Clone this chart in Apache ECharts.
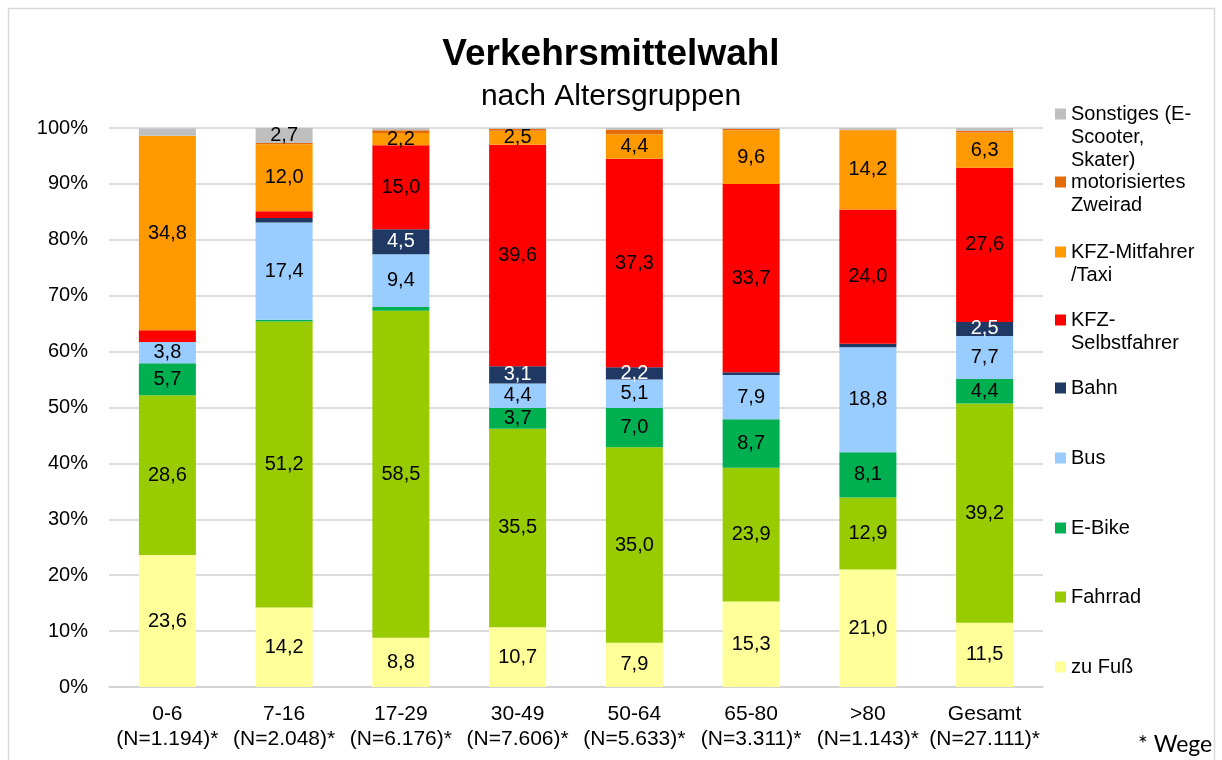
<!DOCTYPE html>
<html><head><meta charset="utf-8">
<script src="https://cdn.jsdelivr.net/npm/echarts@6/dist/echarts.min.js"></script>
<style>html,body{margin:0;padding:0;background:#fff}#c{width:1222px;height:760px}</style>
</head><body><div id="c"></div>
<script>
const categories = ['0-6\n(N=1.194)*','7-16\n(N=2.048)*','17-29\n(N=6.176)*','30-49\n(N=7.606)*','50-64\n(N=5.633)*','65-80\n(N=3.311)*','>80\n(N=1.143)*','Gesamt\n(N=27.111)*'];
const zuFuss    = [23.6, 14.2,  8.8, 10.7,  7.9, 15.3, 21.0, 11.5];
const fahrrad   = [28.6, 51.2, 58.5, 35.5, 35.0, 23.9, 12.9, 39.2];
const eBike     = [ 5.7,  0.3,  0.7,  3.7,  7.0,  8.7,  8.1,  4.4];
const bus       = [ 3.8, 17.4,  9.4,  4.4,  5.1,  7.9, 18.8,  7.7];
const bahn      = [ 0.0,  0.8,  4.5,  3.1,  2.2,  0.5,  0.6,  2.5];
const kfzSelbst = [ 2.1,  1.2, 15.0, 39.6, 37.3, 33.7, 24.0, 27.6];
const kfzMit    = [34.8, 12.0,  2.2,  2.5,  4.4,  9.6, 14.2,  6.3];
const motorrad  = [ 0.0,  0.2,  0.5,  0.3,  0.8,  0.2,  0.1,  0.3];
const sonstiges = [ 1.3,  2.7,  0.4,  0.2,  0.3,  0.2,  0.3,  0.5];
const seriesNames = ['zu Fuß','Fahrrad','E-Bike','Bus','Bahn','KFZ-Selbstfahrer','KFZ-Mitfahrer/Taxi','motorisiertes Zweirad','Sonstiges (E-Scooter, Skater)'];
const legendTexts = [['zu Fuß'],['Fahrrad'],['E-Bike'],['Bus'],['Bahn'],['KFZ-','Selbstfahrer'],['KFZ-Mitfahrer','/Taxi'],['motorisiertes','Zweirad'],['Sonstiges (E-','Scooter,','Skater)']];
const seriesValues = [zuFuss, fahrrad, eBike, bus, bahn, kfzSelbst, kfzMit, motorrad, sonstiges];
const colors = ['#FFFF99','#99CC00','#00B050','#99CCFF','#1F3864','#FF0000','#FF9900','#E36C09','#BFBFBF'];
const labelColors = ['#000','#000','#000','#000','#fff','#000','#000','#000','#000'];
const legendY = [667, 597, 528, 458, 388, 320, 252, 182, 114];

const FF = 'Liberation Sans, Arial, sans-serif';
const LH = 23;
const chart = echarts.init(document.getElementById('c'));
const fmt = v => v.toFixed(1).replace('.', ',');

chart.setOption({
  animation: false,
  backgroundColor: '#fff',
  title: [
    {text: 'Verkehrsmittelwahl', left: 'center', top: 36, padding: 0,
     textStyle: {fontSize: 37, fontWeight: 'bold', color: '#000', fontFamily: FF}},
    {text: 'nach Altersgruppen', left: 'center', top: 82, padding: 0,
     textStyle: {fontSize: 30, fontWeight: 'normal', color: '#000', fontFamily: FF}}
  ],
  grid: {left: 109, right: 179, top: 128, bottom: 73, containLabel: false},
  xAxis: {
    type: 'category', data: categories,
    axisLine: {lineStyle: {color: '#D0D0D0', width: 1.5}},
    axisTick: {show: false},
    axisLabel: {fontSize: 21, lineHeight: 25, color: '#000', fontFamily: FF, margin: 15, interval: 0}
  },
  yAxis: {
    type: 'value', min: 0, max: 100, interval: 10,
    axisLine: {show: false}, axisTick: {show: false},
    splitLine: {lineStyle: {color: '#D0D0D0', width: 1.5}},
    axisLabel: {formatter: '{value}%', fontSize: 20, color: '#000', fontFamily: FF, margin: 21}
  },
  legend: seriesNames.map((n, i) => {
    const lines = legendTexts[i];
    const h = LH * lines.length;
    return {
      data: [n], left: 1055, top: legendY[i] - LH / 2, padding: 0,
      orient: 'vertical', selectedMode: false,
      itemWidth: 11, itemHeight: h,
      icon: 'path://M0,6H11V17H0Z M0,0 M0,' + h,
      formatter: () => lines.join('\n'),
      textStyle: {fontSize: 20, lineHeight: LH, color: '#000', fontFamily: FF}
    };
  }),
  series: seriesNames.map((n, i) => ({
    name: n, type: 'bar', stack: 'total', barWidth: 57,
    data: seriesValues[i],
    itemStyle: {color: colors[i]},
    label: {
      show: true, position: 'inside', fontSize: 20, color: labelColors[i], fontFamily: FF,
      formatter: p => (p.value >= 2.15 ? fmt(p.value) : '')
    }
  })),
  graphic: [
    {type: 'rect', shape: {x: 8.5, y: 8.5, width: 1206, height: 800}, silent: true,
     style: {fill: 'none', stroke: '#D9D9D9', lineWidth: 1.5}},
    {type: 'text', left: 1138, top: 733,
     style: {text: '* Wege', fontSize: 23, fill: '#000', fontFamily: 'Lato, Carlito, sans-serif'}}
  ]
});
</script></body></html>
